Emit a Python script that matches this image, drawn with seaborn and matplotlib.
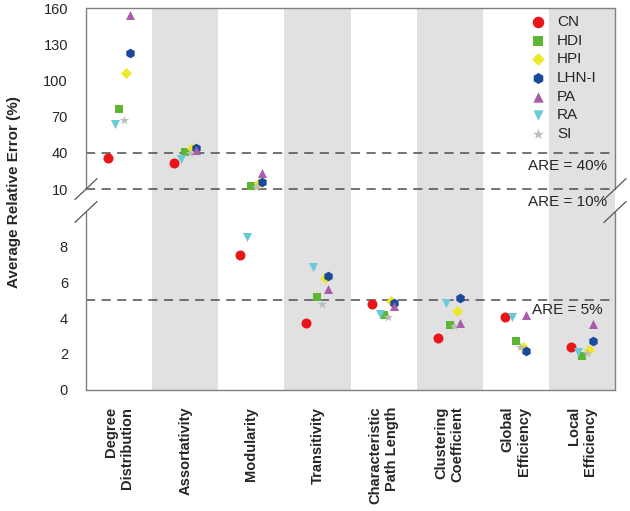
import numpy as np
import pandas as pd
import matplotlib.pyplot as plt
import seaborn as sns
from matplotlib.ticker import NullLocator

# Data
categories = [
    "Degree\nDistribution", "Assortativity", "Modularity", "Transitivity",
    "Characteristic\nPath Length", "Clustering\nCoefficient",
    "Global\nEfficiency", "Local\nEfficiency",
]
methods = ["CN", "HDI", "HPI", "LHN-I", "PA", "RA", "SI"]

cn = [35.7, 31.8, 7.5, 3.74, 4.76, 2.87, 4.07, 2.41]
hdi = [76.3, 40.9, 12.5, 5.18, 4.17, 3.61, 2.74, 1.91]
hpi = [106.0, 44.0, 14.7, 6.2, 4.96, 4.41, 2.37, 2.22]
lhn_i = [123.0, 44.2, 16.0, 6.35, 4.81, 5.13, 2.17, 2.74]
pa = [154.0, 42.3, 23.3, 5.6, 4.67, 3.70, 4.17, 3.67]
ra = [63.9, 34.9, 8.48, 6.82, 4.22, 4.81, 4.07, 2.13]
si = [67.2, 39.5, 12.0, 4.76, 4.04, 3.58, 2.41, 2.07]

thresholds = [40, 10, 5]
y_ticks = [0, 2, 4, 6, 8, 10, 40, 70, 100, 130, 160]

values = {"CN": cn, "HDI": hdi, "HPI": hpi, "LHN-I": lhn_i, "PA": pa, "RA": ra, "SI": si}
df = pd.DataFrame([
    {"method": m, "pos": i, "value": v}
    for m in methods for i, v in enumerate(values[m])
])

# Styles
colors = {"CN": "#E8161B", "HDI": "#5DB531", "HPI": "#EDE82B", "LHN-I": "#1B4A9C",
          "PA": "#A85CAA", "RA": "#6BCAD8", "SI": "#BDBDBD"}
markers = {"CN": "o", "HDI": "s", "HPI": "D", "LHN-I": "h", "PA": "^", "RA": "v", "SI": "*"}
sizes = {"CN": 52, "HDI": 38, "HPI": 32, "LHN-I": 48, "PA": 42, "RA": 42, "SI": 50}
dodge = {"CN": -0.17, "HDI": 0.0, "HPI": 0.11, "LHN-I": 0.16, "PA": 0.16, "RA": -0.06, "SI": 0.07}

sns.set_style("white")
plt.rcParams["font.family"] = ["Liberation Sans", "DejaVu Sans"]


# Broken y axis: 0-10 stretched below, 10-160 compressed above, small gap between
def forward(v):
    v = np.asarray(v, dtype=float)
    return np.where(v < 10, v * 18.0, 201.0 + (v - 10.0) * 181.0 / 150.0)


def inverse(h):
    h = np.asarray(h, dtype=float)
    return np.where(h < 180, h / 18.0,
                    np.where(h < 201, 10.0, 10.0 + (h - 201.0) * 150.0 / 181.0))


fig = plt.figure(figsize=(6.3, 5.11), dpi=100)
ax = fig.add_axes([0.1365, 0.2368, 0.8397, 0.7475])
ax.set_yscale("function", functions=(forward, inverse))
ax.set_ylim(0, 160)
ax.set_xlim(-0.5, len(categories) - 0.5)

# Alternating shaded columns
for i in range(1, len(categories), 2):
    ax.axvspan(i - 0.5, i + 0.5, color="#E1E1E1", lw=0, zorder=0)

# Reference lines
for t in thresholds:
    ax.axhline(t, color="#4d4d4d", lw=1.1, ls=(0, (6, 4.2)), zorder=1)

# Points
for m in methods:
    sub = df[df["method"] == m]
    sns.scatterplot(
        x=sub["pos"] + dodge[m], y=sub["value"], ax=ax,
        marker=markers[m], color=colors[m], s=sizes[m],
        linewidth=0, label=m, zorder=3,
    )

ax.set_yticks(y_ticks)
ax.set_yticklabels([str(t) for t in y_ticks])
ax.yaxis.set_minor_locator(NullLocator())
ax.set_xticks(range(len(categories)))
ax.set_xticklabels(categories, rotation=90, fontweight="bold", fontsize=10.5,
                   ha="center", va="top", multialignment="right")
ax.tick_params(axis="y", length=0, pad=13, labelsize=10.5)
ax.tick_params(axis="x", length=0, pad=12)
ax.set_xlabel("")
ax.set_ylabel("Average Relative Error (%)", fontweight="bold", fontsize=11)
ax.yaxis.set_label_coords(-0.123, 0.517)

# Frame with break marks
for s in ax.spines.values():
    s.set_visible(False)
frame = dict(color="#808080", lw=1.0, transform=ax.transAxes, clip_on=False)
lo, hi = 0.466, 0.526
ax.plot([0, 1], [0, 0], **frame)
ax.plot([0, 1], [1, 1], **frame)
for x0 in (0, 1):
    ax.plot([x0, x0], [0, lo], **frame)
    ax.plot([x0, x0], [hi, 1], **frame)
    for yb in (lo, hi):
        ax.plot([x0 - 0.021, x0 + 0.021], [yb - 0.0275, yb + 0.0275],
                color="#555555", lw=0.9, transform=ax.transAxes, clip_on=False)

# Threshold annotations
ax.text(0.985, 0.586, "ARE = 40%", transform=ax.transAxes, ha="right", va="center", fontsize=11)
ax.text(0.985, 0.492, "ARE = 10%", transform=ax.transAxes, ha="right", va="center", fontsize=11)
ax.text(0.977, 0.209, "ARE = 5%", transform=ax.transAxes, ha="right", va="center", fontsize=11)

ax.legend(loc="upper left", bbox_to_anchor=(0.815, 1.005), frameon=False, fontsize=11,
          handletextpad=0.5, labelspacing=0.3, borderaxespad=0.2, handlelength=1.5,
          markerscale=1.15)

fig.savefig("out.png", dpi=100)
